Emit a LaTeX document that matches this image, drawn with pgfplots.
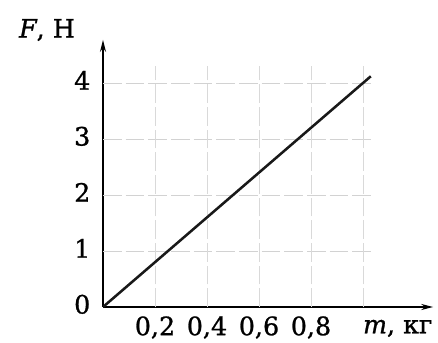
\documentclass[border=0pt]{standalone}
\usepackage{fontspec}
\setmainfont{DejaVu Serif}[FakeBold=1.0]
\usepackage{pgfplots}
\pgfplotsset{compat=1.18}
\usetikzlibrary{arrows.meta}
\begin{document}
\begin{tikzpicture}
\begin{axis}[
  x=195pt, y=42pt,
  xmin=0, xmax=1.27, ymin=0, ymax=4.77,
  axis lines=left,
  axis line style={line width=1.3pt, -{Stealth[length=9pt,width=4.5pt]}},
  xtick={0.2,0.4,0.6,0.8},
  xticklabels={{0,2},{0,4},{0,6},{0,8}},
  ytick={0,1,2,3,4},
  major tick length=0pt,
  tick label style={font=\fontsize{19}{22}\selectfont},
  /pgf/number format/assume math mode=true,
  xticklabel style={yshift=-3.5pt},
  yticklabel style={xshift=-6pt, yshift=2pt},
  clip=false,
]
\foreach \yy in {1,2,3,4} {
  \edef\tmp{\noexpand\draw[gray!35, line width=0.6pt, dash pattern=on 14pt off 3pt] (axis cs:0,\yy) -- (axis cs:1.04,\yy);}
  \tmp
}
\foreach \xx in {0.2,0.4,0.6,0.8,1.0} {
  \edef\tmp{\noexpand\draw[gray!30, line width=0.6pt, dash pattern=on 14pt off 3pt] (axis cs:\xx,0) -- (axis cs:\xx,4.3);}
  \tmp
}
\addplot[black!90, line width=1.9pt] coordinates {(0,0) (1.03,4.12)};
\coordinate (O) at (axis cs:0,0);
\end{axis}
\node[font=\fontsize{19}{22}\selectfont] at ([xshift=-42pt,yshift=207.75pt]O) {\textit{F}, Н};
\node[font=\fontsize{19}{22}\selectfont] at ([xshift=221pt,yshift=-16pt]O) {\textit{m}, кг};
\pgfresetboundingbox
\path ([xshift=-77.25pt,yshift=-26.25pt]O) rectangle ++(328.5pt,256.5pt);
\end{tikzpicture}
\end{document}
